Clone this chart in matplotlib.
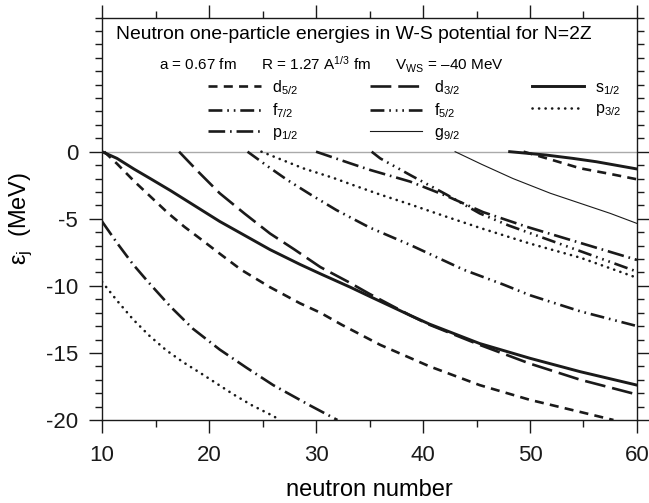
import matplotlib
matplotlib.use('Agg')
import matplotlib.pyplot as plt
from matplotlib.ticker import MultipleLocator

# neutron one-particle levels (N, energy in MeV)
s1_N = [10, 11.4, 13.0, 14.5, 16.4, 19.2, 21.0, 23.8, 25.7, 28.5, 30.4, 33.2, 35.05, 38.8, 40.6, 45.3, 50.0, 54.7, 60.0]
s1_E = [0, -0.5, -1.3, -2.0, -2.9, -4.3, -5.2, -6.45, -7.3, -8.4, -9.1, -10.1, -10.8, -12.2, -12.85, -14.3, -15.4, -16.4, -17.4]

d5_N = [10.2, 11.4, 13.0, 14.6, 16.2, 17.7, 19.2, 21.0, 23.0, 25.7, 28.5, 30.4, 32.4, 36.0, 40.6, 45.3, 50.0, 54.7, 57.8]
d5_E = [0, -0.9, -2.2, -3.4, -4.6, -5.6, -6.5, -7.6, -8.8, -10.1, -11.3, -12.0, -12.9, -14.4, -16.0, -17.4, -18.5, -19.4, -20.0]

d3_N = [17.2, 19.0, 21.0, 23.3, 25.7, 28.0, 30.4, 33.0, 35.0, 38.8, 40.6, 45.3, 50.0, 54.7, 60.0]
d3_E = [0, -1.5, -3.1, -4.6, -6.1, -7.3, -8.6, -9.7, -10.6, -12.2, -12.9, -14.4, -15.8, -17.0, -18.1]

p1_N = [10, 11.4, 12.9, 14.3, 16.4, 18.5, 21.0, 23.5, 26.0, 29.4, 32.0]
p1_E = [-5.2, -6.8, -8.4, -9.7, -11.55, -13.2, -14.75, -16.1, -17.4, -18.9, -20.0]

p3_N = [10, 11.4, 12.9, 14.4, 16.0, 17.6, 19.2, 22.3, 24.0, 26.0, 26.6]
p3_E = [-9.7, -11.1, -12.5, -13.7, -14.8, -15.7, -16.5, -18.1, -18.9, -19.7, -20.0]

f7_N = [23.6, 25.5, 27.3, 29.5, 31.9, 35.0, 38.8, 43.8, 47.5, 50.0, 54.7, 60.0]
f7_E = [0, -1.1, -2.1, -3.2, -4.35, -5.65, -6.95, -8.8, -9.9, -10.7, -11.9, -13.0]

p3b_N = [24.9, 28.8, 31.6, 33.5, 36.0, 38.5, 42.0, 45.4, 50.0, 54.7, 60.0]
p3b_E = [0, -1.24, -1.95, -2.5, -3.2, -3.85, -4.8, -5.7, -6.85, -7.9, -9.4]

p1b_N = [30.0, 33.2, 35.05, 38.8, 42.2, 45.6, 49.7, 54.7, 60.0]
p1b_E = [0, -0.87, -1.36, -2.23, -3.3, -4.5, -5.6, -6.8, -8.07]

f5_N = [35.2, 36.0, 38.8, 42.2, 45.3, 48.0, 51.5, 55.0, 60.0]
f5_E = [0, -0.5, -1.74, -3.2, -4.6, -5.5, -6.5, -7.5, -8.94]

g9_N = [43.0, 45.5, 48.4, 51.9, 54.7, 57.5, 60.0]
g9_E = [0, -0.95, -2.0, -3.1, -3.85, -4.6, -5.35]

s1b_N = [48.1, 51.5, 54.0, 56.2, 60.0]
s1b_E = [0, -0.25, -0.5, -0.75, -1.29]

d5b_N = [49.4, 52.0, 54.7, 57.5, 60.0]
d5b_E = [0, -0.6, -1.24, -1.66, -2.06]

plt.rcParams['font.family'] = ['Liberation Sans', 'DejaVu Sans']
plt.rcParams['mathtext.fontset'] = 'custom'
plt.rcParams['mathtext.rm'] = 'Liberation Sans'
plt.rcParams['mathtext.it'] = 'Liberation Sans:italic'
plt.rcParams['lines.scale_dashes'] = False
plt.rcParams['axes.unicode_minus'] = False

fig = plt.figure(figsize=(6.49, 5.03), dpi=100)
ax = fig.add_axes([0.1572, 0.165, 0.8243, 0.8002])

k = '#1a1a1a'
lw = 1.9
dash_d5 = (0, (6.5, 4.5))
dash_d3 = (0, (15, 5))
dash_p1 = (0, (12, 3.5, 1.2, 3.5))
dash_f7 = (0, (10, 3.5, 1.2, 3.5, 1.2, 3.5))
dash_f5 = (0, (10, 3.5, 1.2, 3.5, 1.2, 3.5, 1.2, 3.5))
dash_p3 = (0, (0.1, 4.6))

ax.axhline(0, color='#aaaaaa', lw=1.0, zorder=1)

# lower shell (1s, 1p, 1d ...)
h_d5, = ax.plot(d5_N, d5_E, color=k, lw=lw, linestyle=dash_d5, label='$\\mathrm{d}_{5/2}$')
h_f7, = ax.plot(f7_N, f7_E, color=k, lw=lw, linestyle=dash_f7, label='$\\mathrm{f}_{7/2}$')
h_p1, = ax.plot(p1_N, p1_E, color=k, lw=lw, linestyle=dash_p1, label='$\\mathrm{p}_{1/2}$')
h_d3, = ax.plot(d3_N, d3_E, color=k, lw=lw, linestyle=dash_d3, label='$\\mathrm{d}_{3/2}$')
h_f5, = ax.plot(f5_N, f5_E, color=k, lw=lw, linestyle=dash_f5, label='$\\mathrm{f}_{5/2}$')
h_g9, = ax.plot(g9_N, g9_E, color=k, lw=0.8, label='$\\mathrm{g}_{9/2}$')
h_s1, = ax.plot(s1_N, s1_E, color=k, lw=2.1, label='$\\mathrm{s}_{1/2}$')
h_p3, = ax.plot(p3_N, p3_E, color=k, lw=lw, linestyle=dash_p3, dash_capstyle='round', label='$\\mathrm{p}_{3/2}$')

# second radial levels, same styles
ax.plot(p3b_N, p3b_E, color=k, lw=lw, linestyle=dash_p3, dash_capstyle='round')
ax.plot(p1b_N, p1b_E, color=k, lw=lw, linestyle=dash_p1)
ax.plot(s1b_N, s1b_E, color=k, lw=2.1)
ax.plot(d5b_N, d5b_E, color=k, lw=lw, linestyle=dash_d5)

ax.set_xlim(10, 60)
ax.set_ylim(-20, 10)
ax.set_xticks([10, 20, 30, 40, 50, 60])
ax.set_yticks([-20, -15, -10, -5, 0])
ax.xaxis.set_minor_locator(MultipleLocator(5))
ax.yaxis.set_minor_locator(MultipleLocator(1))
ax.tick_params(which='both', direction='out', top=True, right=True, width=1.0, colors=k)
ax.tick_params(which='major', length=9.2, labelsize=16)
ax.tick_params(which='minor', length=4.8)
ax.tick_params(axis='x', which='major', pad=9)
ax.tick_params(axis='y', which='major', pad=8)
for sp in ax.spines.values():
    sp.set_linewidth(1.0)
    sp.set_color(k)

ax.set_xlabel('neutron number', fontsize=17, labelpad=9)
ax.set_ylabel('$\\mathrm{ε}_{\\mathrm{j}}$  (MeV)', fontsize=17, labelpad=8)

ax.text(0.471, 0.957, 'Neutron one-particle energies in W-S potential for N=2Z',
        transform=ax.transAxes, ha='center', va='center', fontsize=13.9)
ax.text(0.428, 0.882, 'a = 0.67 fm      R = 1.27 A$^{1/3}$ fm      V$_{\\mathrm{WS}}$ = \u201340 MeV',
        transform=ax.transAxes, ha='center', va='center', fontsize=11)

ax.legend(handles=[h_d5, h_f7, h_p1, h_d3, h_f5, h_g9, h_s1, h_p3], ncol=3,
          loc='upper left', bbox_to_anchor=(0.198, 0.85), frameon=False,
          fontsize=11.5, handlelength=3.3, handletextpad=0.7, columnspacing=4.5,
          labelspacing=0.3, borderpad=0, borderaxespad=0)

plt.savefig('out.png', dpi=100)
